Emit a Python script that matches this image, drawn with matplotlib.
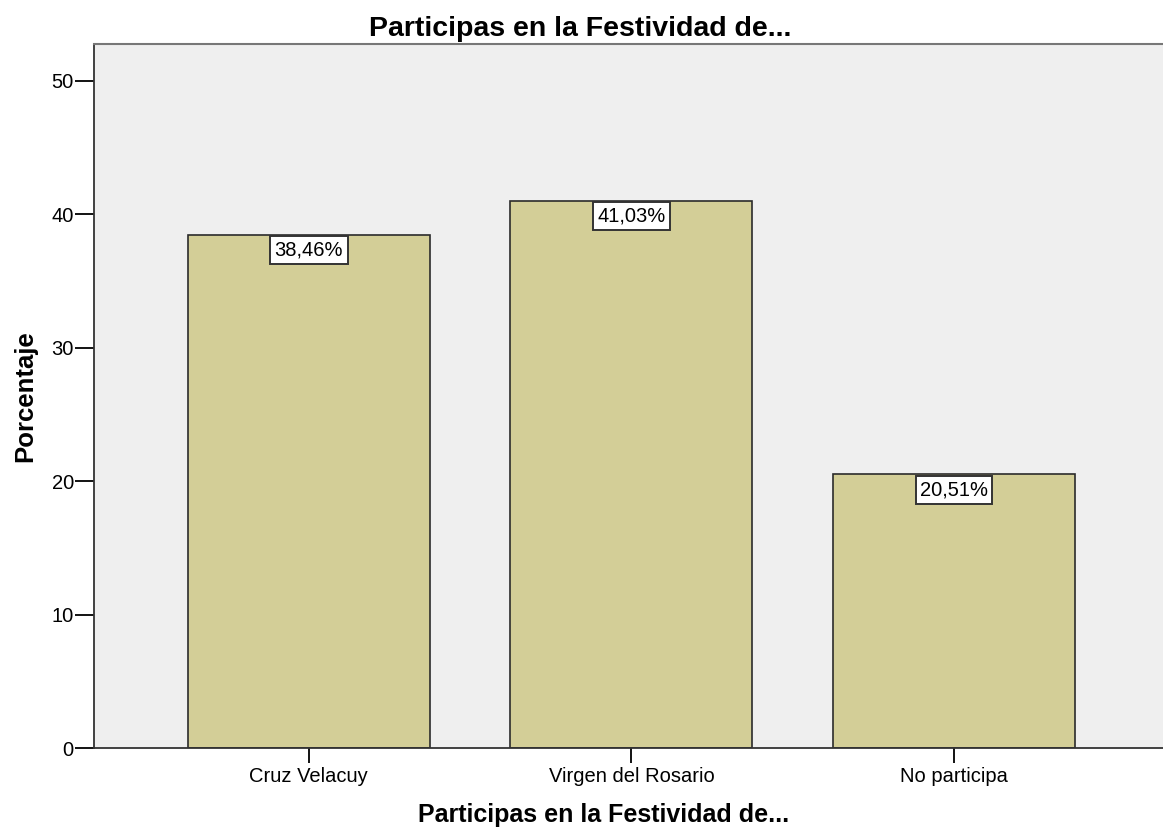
import matplotlib.pyplot as plt
import numpy as np

plt.rcParams['font.family'] = ['Liberation Sans', 'DejaVu Sans']

# Data
categorias = ['Cruz Velacuy', 'Virgen del Rosario', 'No participa']
porcentajes = [38.46, 41.03, 20.51]
etiquetas = ['38,46%', '41,03%', '20,51%']
y_ticks = [0, 10, 20, 30, 40, 50]

fig = plt.figure(figsize=(11.63, 8.27), dpi=100)
ax = fig.add_axes([94 / 1163, 1 - 748 / 827, 1 - 94 / 1163 + 0.002, (748 - 44) / 827])
ax.set_facecolor('#efefef')

x = np.arange(len(categorias))
bars = ax.bar(x, porcentajes, width=0.75, color='#d3ce97', edgecolor='#2b2b2b', linewidth=1.2)

# Value labels
for xi, val, lab in zip(x, porcentajes, etiquetas):
    ax.text(xi, val - 0.45, lab, ha='center', va='top', fontsize=14.5,
            bbox=dict(boxstyle='square,pad=0.22', facecolor='white', edgecolor='#333333', linewidth=1.4))

ax.set_xlim(-0.666, 2.655)
ax.set_ylim(0, 52.77)
ax.set_yticks(y_ticks)
ax.set_xticks(x)
ax.set_xticklabels(categorias)
ax.tick_params(axis='y', direction='out', length=14, width=1.3, labelsize=14.5, pad=0.5)
ax.tick_params(axis='x', direction='out', length=11, width=1.3, labelsize=14.5, pad=3)

for side in ['left', 'bottom']:
    ax.spines[side].set_color('#333333')
    ax.spines[side].set_linewidth(1.3)
ax.spines['top'].set_color('#777777')
ax.spines['top'].set_linewidth(1.5)
ax.spines['right'].set_visible(False)

# title sits centred on the figure, not on the axes
ax.set_title('Participas en la Festividad de...', fontsize=20.5, fontweight='bold', pad=6, x=0.454)
ax.set_ylabel('Porcentaje', fontsize=18.5, fontweight='bold', labelpad=10)
ax.set_xlabel('Participas en la Festividad de...', fontsize=18, fontweight='bold', labelpad=12, x=0.476)

fig.savefig('out.png', dpi=100)
